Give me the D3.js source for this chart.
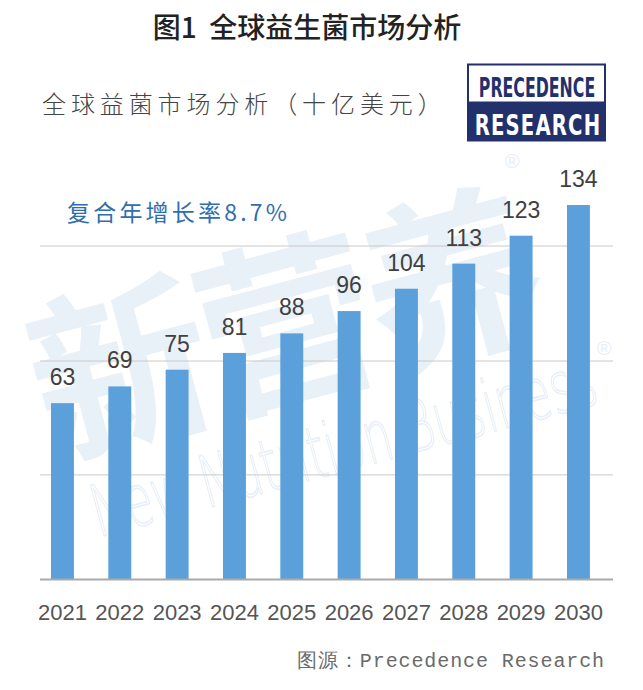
<!DOCTYPE html>
<html>
<head>
<meta charset="utf-8">
<script src="https://cdn.jsdelivr.net/npm/d3@7"></script>
<style>
  html, body { margin: 0; padding: 0; background: #fff; }
  svg { display: block; }
</style>
</head>
<body>
<div id="chart"></div>
<script>
// Global probiotics market, USD billion (Precedence Research)
const years = ['2021', '2022', '2023', '2024', '2025', '2026', '2027', '2028', '2029', '2030'];
const marketSize = [63, 69, 75, 81, 88, 96, 104, 113, 123, 134];
// gridlines as they sit in the picture (value units)
const gridValues = [37.3, 78.1, 119.3];

const titleText = '图1  全球益生菌市场分析';
const subtitleText = '全球益菌市场分析（十亿美元）';
const cagrText = '复合年增长率8.7%';
const sourceText = '图源：Precedence Research';

const W = 643, H = 690;
const plot = { left: 40, right: 613, top: 205, bottom: 579 };

const svg = d3.select('#chart').append('svg')
  .attr('width', W).attr('height', H)
  .attr('viewBox', `0 0 ${W} ${H}`);

const cjk = '"Noto Sans CJK SC", "Noto Sans", sans-serif';
const latin = '"Liberation Sans", Arial, sans-serif';
const narrow = '"Liberation Sans Narrow", "DejaVu Sans Condensed", sans-serif';

const x = d3.scaleBand().domain(years)
  .range([33.8, 607.1]).paddingInner(0.6).paddingOuter(0.3);
const y = d3.scaleLinear().domain([0, d3.max(marketSize)])
  .range([plot.bottom, plot.top]);

// faint watermark, behind everything
const wm = svg.append('g').attr('pointer-events', 'none');
wm.append('text')
  .attr('transform', 'translate(300,390) rotate(-15)')
  .attr('text-anchor', 'middle')
  .attr('font-family', cjk).attr('font-weight', 700)
  .attr('font-size', 180).attr('fill', '#e8f0f8')
  .attr('letter-spacing', -8)
  .text('新营养');
wm.append('text')
  .attr('transform', 'translate(350,470) rotate(-15)')
  .attr('text-anchor', 'middle')
  .attr('font-family', '"DejaVu Sans", sans-serif').attr('font-weight', 200)
  .attr('font-size', 72).attr('fill', 'none')
  .attr('stroke', '#e8eff7').attr('stroke-width', 1.6)
  .attr('textLength', 520).attr('lengthAdjust', 'spacingAndGlyphs')
  .text('New Nutrition Business');
[[512, 168], [604, 355]].forEach(([cx, cy]) => {
  wm.append('text').attr('x', cx).attr('y', cy)
    .attr('text-anchor', 'middle').attr('font-family', latin)
    .attr('font-size', 20).attr('fill', '#e6eef7').text('®');
});

// gridlines
svg.append('g').selectAll('line').data(gridValues).join('line')
  .attr('x1', plot.left).attr('x2', plot.right)
  .attr('y1', d => y(d)).attr('y2', d => y(d))
  .attr('stroke', '#c9c9c9').attr('stroke-width', 1);

// bars
svg.append('g').selectAll('rect').data(marketSize).join('rect')
  .attr('x', (d, i) => x(years[i]))
  .attr('width', x.bandwidth())
  .attr('y', d => y(d))
  .attr('height', d => y(0) - y(d))
  .attr('fill', '#5ba0da');

// baseline
svg.append('line')
  .attr('x1', plot.left).attr('x2', plot.right)
  .attr('y1', y(0) + 0.5).attr('y2', y(0) + 0.5)
  .attr('stroke', '#a9a9a9').attr('stroke-width', 2);

// value labels
svg.append('g').selectAll('text').data(marketSize).join('text')
  .attr('x', (d, i) => x(years[i]) + x.bandwidth() / 2)
  .attr('y', d => y(d) - 18)
  .attr('text-anchor', 'middle')
  .attr('font-family', latin).attr('font-size', 23)
  .attr('fill', '#404040')
  .text(d => d);

// year axis
const xAxis = svg.append('g')
  .attr('transform', `translate(0,${plot.bottom})`)
  .call(d3.axisBottom(x).tickSize(0).tickPadding(0));
xAxis.select('.domain').remove();
xAxis.selectAll('text')
  .attr('dy', null).attr('y', 41)
  .attr('font-family', latin).attr('font-size', 22)
  .attr('fill', '#555');

// titles
svg.append('text')
  .attr('x', 307).attr('y', 38)
  .attr('text-anchor', 'middle')
  .attr('font-family', cjk).attr('font-weight', 500)
  .attr('font-size', 28).attr('fill', '#222')
  .style('white-space', 'pre')
  .text(titleText);

svg.append('text')
  .attr('x', 42).attr('y', 113)
  .attr('font-family', cjk).attr('font-weight', 300)
  .attr('font-size', 24).attr('fill', '#444')
  .attr('letter-spacing', 4.9)
  .text(subtitleText);

svg.append('text')
  .attr('x', 67).attr('y', 221)
  .attr('font-family', cjk).attr('font-weight', 400)
  .attr('font-size', 23).attr('fill', '#2f6eaf')
  .attr('letter-spacing', 3.2)
  .text(cagrText);

// Precedence Research logo (tall narrow lettering, squeezed horizontally)
const logo = svg.append('g');
logo.append('rect').attr('x', 468).attr('y', 64.5).attr('width', 137).attr('height', 38)
  .attr('fill', '#fff').attr('stroke', '#22306c').attr('stroke-width', 2);
logo.append('rect').attr('x', 467).attr('y', 102).attr('width', 139).attr('height', 39.5)
  .attr('fill', '#22306c');
logo.append('text')
  .attr('transform', 'translate(537,97) scale(0.65,1)')
  .attr('text-anchor', 'middle')
  .attr('font-family', narrow)
  .attr('font-weight', 700).attr('font-size', 27).attr('fill', '#22306c')
  .text('PRECEDENCE');
logo.append('text')
  .attr('transform', 'translate(538,135) scale(0.78,1)')
  .attr('text-anchor', 'middle')
  .attr('font-family', narrow)
  .attr('font-weight', 700).attr('font-size', 28).attr('fill', '#fff')
  .attr('letter-spacing', 1.5)
  .text('RESEARCH');

// source note
svg.append('text')
  .attr('x', 605).attr('y', 667)
  .attr('text-anchor', 'end')
  .attr('font-family', '"Liberation Mono", "DejaVu Sans Mono", monospace')
  .attr('font-size', 20).attr('fill', '#6a6a6a')
  .attr('letter-spacing', 0.9)
  .text(sourceText);
</script>
</body>
</html>
